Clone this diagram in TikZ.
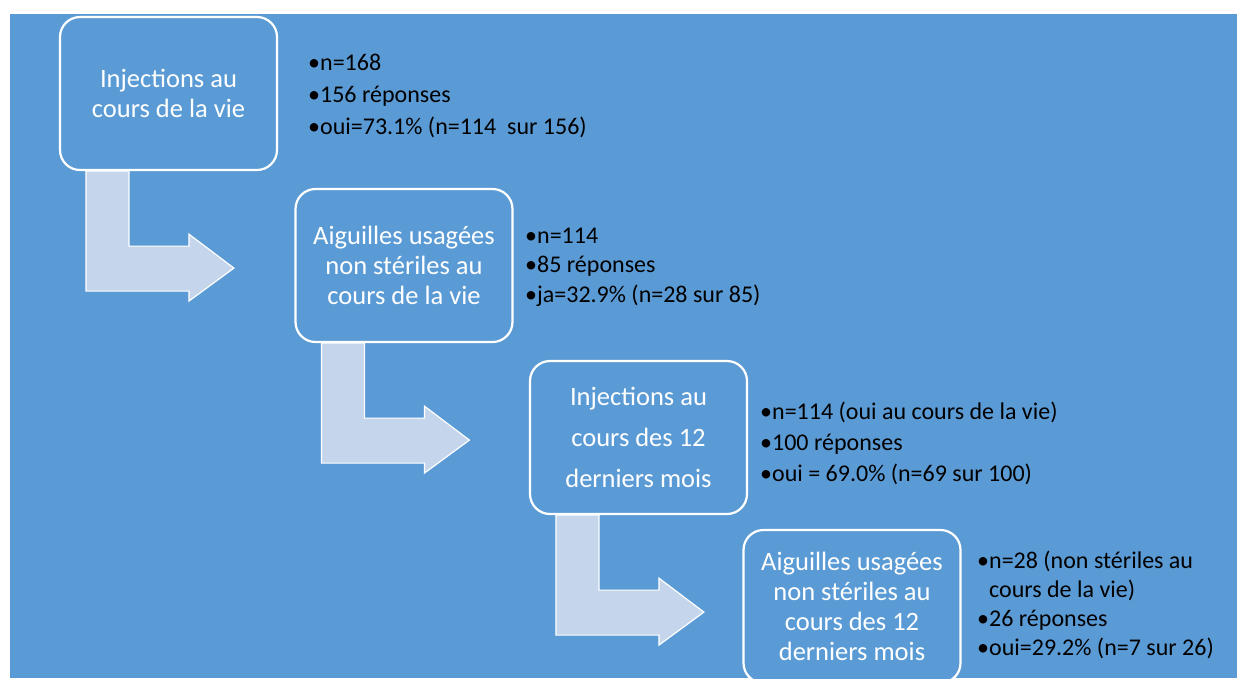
\documentclass[tikz,border=0pt]{standalone}
\usepackage{fontspec}
\setmainfont{Carlito}
\usepackage{tikz}
\definecolor{bgblue}{HTML}{5B9BD5}
\definecolor{arrowblue}{HTML}{C5D6EC}

\begin{document}
\begin{tikzpicture}[x=1pt,y=-1pt,
        bendarrow/.pic={
            \filldraw[fill=arrowblue,draw=white,line width=1.2pt] (27,0) -- (70,0) -- (70,75) -- (130,75) -- (130,63) -- (175,97) -- (130,130) -- (130,120) -- (27,120) -- cycle;
        }]
        \useasboundingbox (0,0) rectangle (1237,678);
        \fill[white] (0,0) rectangle (1237,678);
        \fill[bgblue] (10,14) rectangle (1237,678);
        \clip (10,14) rectangle (1237,678);
        \begin{scope}[every node/.style={rectangle,rounded corners=20pt,draw=white,line width=2.2pt,fill=bgblue,text=white,minimum width=217pt,minimum height=153pt,align=center,font=\fontsize{26.5}{30}\selectfont}]
            \node (B1) at (168.5, 93.5) {Injections au\\cours de la vie};
            \node (B2) at (404, 265.5) {Aiguilles usagées\\non stériles au\\cours de la vie};
            \node (B3) [font=\fontsize{26.5}{41}\selectfont] at (638.5, 437.5) {Injections au\\cours des 12\\derniers mois};
            \node (B4) at (852, 606.5) {Aiguilles usagées\\non stériles au\\cours des 12\\derniers mois};
        \end{scope}
        \pic at (B1.south west) {bendarrow};
        \pic at (B2.south west) {bendarrow};
        \pic at (B3.south west) {bendarrow};
        \begin{scope}[every node/.style={anchor=west,align=left,inner sep=0pt,text=black,font=\fontsize{24}{32}\selectfont}]
            \node (N1) at (308, 96) {•n=168\\•156 réponses\\•oui=73.1\% (n=114\ \ sur 156)};
            \node (N2) [font=\fontsize{24}{29.5}\selectfont] at (525, 267) {•n=114\\•85 réponses\\•ja=32.9\% (n=28 sur 85)};
            \node (N3) [font=\fontsize{24}{31}\selectfont] at (760, 443) {•n=114 (oui au cours de la vie)\\•100 réponses\\•oui = 69.0\% (n=69 sur 100)};
            \node (N4) [font=\fontsize{24}{29}\selectfont] at (977, 605) {•n=28 (non stériles au\\\hphantom{•}cours de la vie)\\•26 réponses\\•oui=29.2\% (n=7 sur 26)};
        \end{scope}
    \end{tikzpicture}
\end{document}
